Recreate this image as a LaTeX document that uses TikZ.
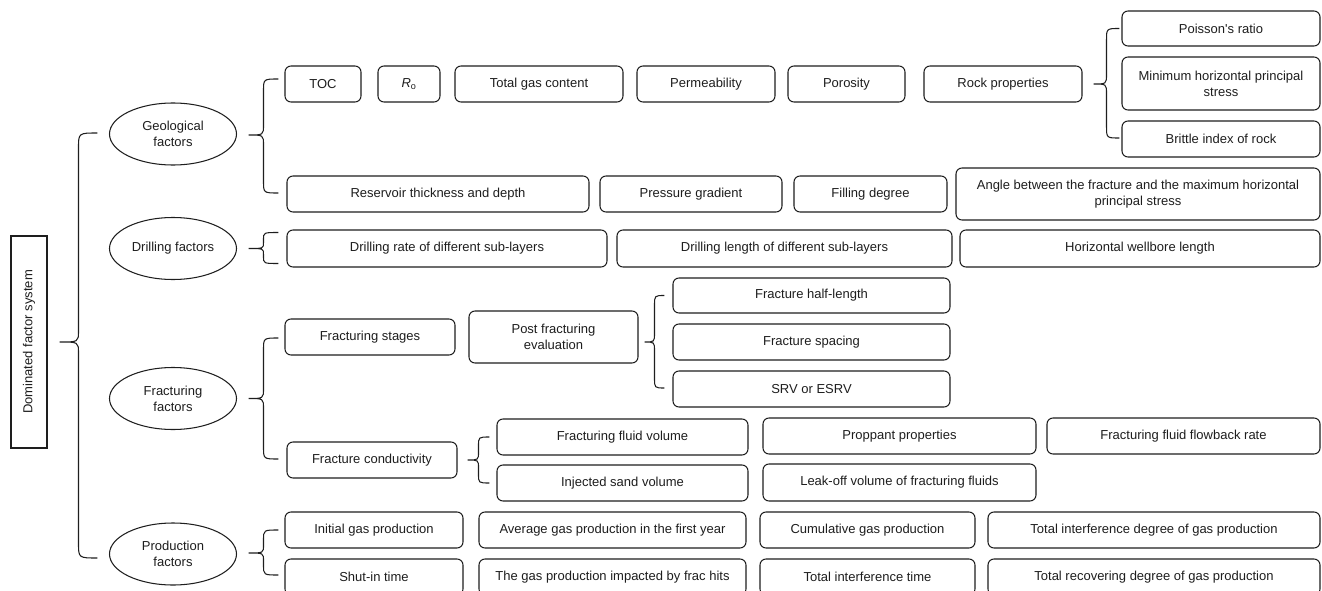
\documentclass[tikz,border=0pt]{standalone}
\usepackage{fontspec}
\setmainfont{Liberation Sans}
\usetikzlibrary{calc,shapes.geometric}
\definecolor{ink}{HTML}{1E1E1E}
\tikzset{
  bx/.style={draw=ink, text=ink, rounded corners=6pt, line width=1.05pt, align=center, inner sep=1pt},
  el/.style={draw=ink, text=ink, ellipse, line width=1.05pt, align=center, inner sep=0pt, minimum width=127pt, minimum height=62pt},
  brcline/.style={draw=ink, line width=1.05pt},
}
\newcommand{\fbrace}[5]{%
  \draw[brcline] let \p1=(#1), \p2=(#2), \p3=(#3), \n1={(\x1+\x3)/2} in
    (\p1) .. controls ({\n1*1pt},{\y1}) .. ({\n1*1pt},{\y1-#4pt})
    -- ({\n1*1pt},{\y3+#5pt}) .. controls ({\n1*1pt},{\y3}) .. (\p3)
    .. controls ({\n1*1pt},{\y3}) .. ({\n1*1pt},{\y3-#5pt})
    -- ({\n1*1pt},{\y2+#4pt}) .. controls ({\n1*1pt},{\y2}) .. (\p2);}
\begin{document}
\begin{tikzpicture}[x=1pt,y=-1pt,font=\fontsize{13}{16}\selectfont]
\clip (0,0) rectangle (1322,591);
\fill[white] (0,0) rectangle (1322,591);
% root
\node[draw=ink, text=ink, line width=1.05pt, rotate=90, minimum width=212pt, minimum height=36pt, inner sep=0pt] (dom) at (29,342) {Dominated factor system};
% categories
\node[el] (geo) at (173,134) {Geological\\factors};
\node[el] (drl) at (173,248.5) {Drilling factors};
\node[el] (frac) at (173,398.5) {Fracturing\\factors};
\node[el] (prod) at (173,554) {Production\\factors};
% geological row 1
\node[bx, minimum width=76pt, minimum height=36pt] (toc) at (323,84) {TOC};
\node[bx, minimum width=62pt, minimum height=36pt] (ro) at (409,84) {\textit{R}\textsubscript{o}};
\node[bx, minimum width=168pt, minimum height=36pt] (tgc) at (539,84) {Total gas content};
\node[bx, minimum width=138pt, minimum height=36pt] (perm) at (706,84) {Permeability};
\node[bx, minimum width=117pt, minimum height=36pt] (poro) at (846.5,84) {Porosity};
\node[bx, minimum width=158pt, minimum height=36pt] (rock) at (1003,84) {Rock properties};
\node[bx, minimum width=198pt, minimum height=35pt] (poisson) at (1221,28.5) {Poisson\textquotesingle s ratio};
\node[bx, minimum width=198pt, minimum height=53pt] (minh) at (1221,83.5) {Minimum horizontal principal\\stress};
\node[bx, minimum width=198pt, minimum height=36pt] (brittle) at (1221,139) {Brittle index of rock};
% geological row 2
\node[bx, minimum width=302pt, minimum height=36pt] (res) at (438,194) {Reservoir thickness and depth};
\node[bx, minimum width=182pt, minimum height=36pt] (pres) at (691,194) {Pressure gradient};
\node[bx, minimum width=153pt, minimum height=36pt] (fill) at (870.5,194) {Filling degree};
\node[bx, minimum width=364pt, minimum height=52pt] (angle) at (1138,194) {Angle between the fracture and the maximum horizontal\\principal stress};
% drilling
\node[bx, minimum width=320pt, minimum height=37pt] (drate) at (447,248.5) {Drilling rate of different sub-layers};
\node[bx, minimum width=335pt, minimum height=37pt] (dlen) at (784.5,248.5) {Drilling length of different sub-layers};
\node[bx, minimum width=360pt, minimum height=37pt] (hwl) at (1140,248.5) {Horizontal wellbore length};
% fracturing
\node[bx, minimum width=170pt, minimum height=36pt] (stages) at (370,337) {Fracturing stages};
\node[bx, minimum width=169pt, minimum height=52pt] (post) at (553.5,337) {Post fracturing\\evaluation};
\node[bx, minimum width=277pt, minimum height=35pt] (half) at (811.5,295.5) {Fracture half-length};
\node[bx, minimum width=277pt, minimum height=36pt] (spacing) at (811.5,342) {Fracture spacing};
\node[bx, minimum width=277pt, minimum height=36pt] (srv) at (811.5,389) {SRV or ESRV};
\node[bx, minimum width=170pt, minimum height=36pt] (cond) at (372,460) {Fracture conductivity};
\node[bx, minimum width=251pt, minimum height=36pt] (fvol) at (622.5,437) {Fracturing fluid volume};
\node[bx, minimum width=251pt, minimum height=36pt] (sand) at (622.5,483) {Injected sand volume};
\node[bx, minimum width=273pt, minimum height=36pt] (prop) at (899.5,436) {Proppant properties};
\node[bx, minimum width=273pt, minimum height=36pt] (flow) at (1183.5,436) {Fracturing fluid flowback rate};
\node[bx, minimum width=273pt, minimum height=37pt] (leak) at (899.5,482.5) {Leak-off volume of fracturing fluids};
% production
\node[bx, minimum width=178pt, minimum height=36pt] (init) at (374,530) {Initial gas production};
\node[bx, minimum width=267pt, minimum height=36pt] (avg) at (612.5,530) {Average gas production in the first year};
\node[bx, minimum width=215pt, minimum height=36pt] (cum) at (867.5,530) {Cumulative gas production};
\node[bx, minimum width=332pt, minimum height=36pt] (tint) at (1154,530) {Total interference degree of gas production};
\node[bx, minimum width=178pt, minimum height=36pt] (shut) at (374,577) {Shut-in time};
\node[bx, minimum width=267pt, minimum height=36pt] (hits) at (612.5,577) {The gas production impacted by frac hits};
\node[bx, minimum width=215pt, minimum height=36pt] (ttime) at (867.5,577) {Total interference time};
\node[bx, minimum width=332pt, minimum height=36pt] (trec) at (1154,577) {Total recovering degree of gas production};
% brace anchor coordinates
\coordinate (b0tip) at ($(dom.south)+(12,0)$);
\coordinate (b0top) at ($(geo.west)+(-11.5,-1)$);
\coordinate (b0bot) at ($(prod.west)+(-11.5,4)$);
\coordinate (bgtip) at ($(geo.east)+(11.5,1)$);
\coordinate (bgtop) at ($(toc.west)+(-6,-5)$);
\coordinate (bgbot) at ($(res.west)+(-8,-1)$);
\coordinate (bdtip) at ($(drl.east)+(11.5,0)$);
\coordinate (bdtop) at ($(drate.west)+(-8,-16)$);
\coordinate (bdbot) at ($(drate.west)+(-8,15)$);
\coordinate (bftip) at ($(frac.east)+(11.5,0)$);
\coordinate (bftop) at ($(stages.west)+(-6,1)$);
\coordinate (bfbot) at ($(cond.west)+(-8,-1)$);
\coordinate (bptip) at ($(prod.east)+(11.5,-1)$);
\coordinate (bptop) at ($(init.west)+(-6,0)$);
\coordinate (bpbot) at ($(shut.west)+(-6,-2)$);
\coordinate (brtip) at ($(rock.east)+(11,0)$);
\coordinate (brtop) at ($(poisson.west)+(-2,0)$);
\coordinate (brbot) at ($(brittle.west)+(-2,-1)$);
\coordinate (bstip) at ($(post.east)+(6,5)$);
\coordinate (bstop) at ($(half.west)+(-8,0)$);
\coordinate (bsbot) at ($(srv.west)+(-8,-1)$);
\coordinate (bctip) at ($(cond.east)+(10,0)$);
\coordinate (bctop) at ($(fvol.west)+(-7,0)$);
\coordinate (bcbot) at ($(sand.west)+(-7,0)$);
% braces
\fbrace{b0top}{b0bot}{b0tip}{15}{11}
\fbrace{bgtop}{bgbot}{bgtip}{12}{10}
\fbrace{bdtop}{bdbot}{bdtip}{7}{6}
\fbrace{bftop}{bfbot}{bftip}{12}{10}
\fbrace{bptop}{bpbot}{bptip}{10}{8}
\fbrace{brtop}{brbot}{brtip}{12}{10}
\fbrace{bstop}{bsbot}{bstip}{10}{9}
\fbrace{bctop}{bcbot}{bctip}{9}{8}
\end{tikzpicture}
\end{document}
